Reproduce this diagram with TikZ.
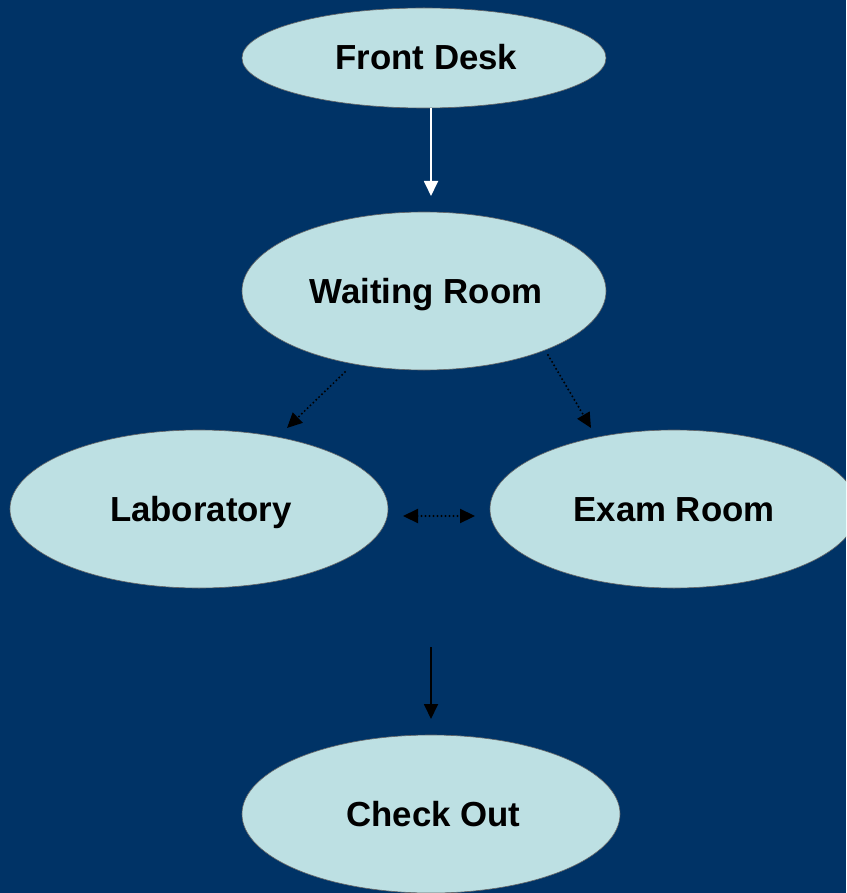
\documentclass[tikz,border=0pt]{standalone}
\usepackage{fontspec}
\setmainfont{Liberation Sans}
\usetikzlibrary{arrows.meta,shapes.geometric}
\definecolor{bg}{HTML}{003366}
\definecolor{fillc}{HTML}{BDE0E3}
\begin{document}
\begin{tikzpicture}[x=1pt,y=-1pt,
  room/.style={ellipse,fill=fillc,draw=black!60,line width=0.6pt,font=\bfseries\fontsize{34.8}{40}\selectfont,inner sep=0pt,text height=25pt,text depth=1pt},
  tipA/.style={-{Triangle[length=15pt,width=14pt]}},
  dots/.style={line width=2.2pt,line cap=round,dash pattern=on 0pt off 4pt,black}]
\useasboundingbox (0,0) rectangle (846,893);
\fill[bg] (0,0) rectangle (846,893);
\begin{scope}
\clip (0,0) rectangle (846,893);
\node[room,minimum width=364pt,minimum height=100pt] (fd) at (424,58) {\hspace{5pt}Front Desk};
\node[room,minimum width=364pt,minimum height=158pt] (wr) at (424,291) {\hspace{4pt}Waiting Room};
\node[room,minimum width=378pt,minimum height=158pt] (lab) at (199,509) {\hspace{4pt}Laboratory};
\node[room,minimum width=368pt,minimum height=158pt] (ex) at (674,509) {Exam Room};
\node[room,minimum width=378pt,minimum height=158pt] (co) at (431,814) {\hspace{5pt}Check Out};
\end{scope}
\coordinate (a1) at (431,196);
\coordinate (b0) at (345,372);
\coordinate (b1) at (287,428);
\coordinate (c0) at (548,355);
\coordinate (c1) at (591,428);
\coordinate (d0) at (403,516);
\coordinate (d1) at (475,516);
\coordinate (e0) at (431,647);
\coordinate (e1) at (431,719);
\draw[tipA,white,line width=1.8pt] (fd.south -| a1) -- (a1);
\draw[dots,-{Triangle[length=15pt,width=14pt,line cap=butt]}] (b0) -- (b1);
\draw[dots,-{Triangle[length=15pt,width=14pt,line cap=butt]}] (c0) -- (c1);
\draw[dots,{Triangle[length=15pt,width=14pt,line cap=butt]}-{Triangle[length=15pt,width=14pt,line cap=butt]}] (d0) -- (d1);
\draw[tipA,black,line width=1.8pt] (e0) -- (e1);
\end{tikzpicture}
\end{document}
